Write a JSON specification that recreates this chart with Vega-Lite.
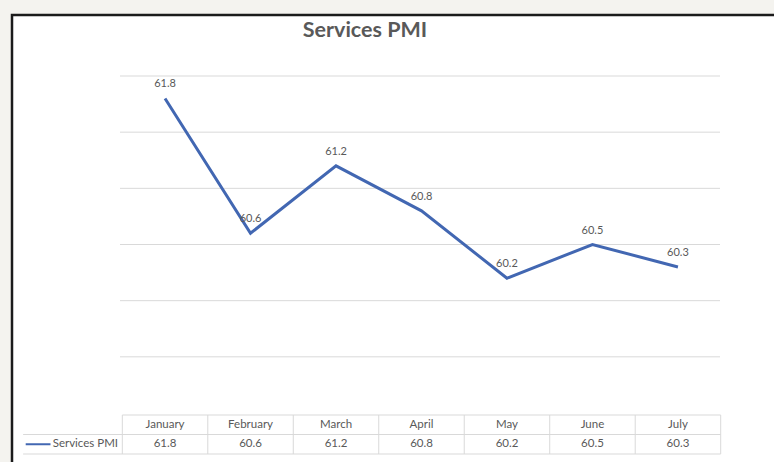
{
  "$schema": "https://vega.github.io/schema/vega-lite/v6.json",
  "width": 770,
  "height": 460,
  "autosize": {"type": "none"},
  "padding": {"left": 12, "top": 15, "right": 0, "bottom": 0},
  "background": "#f4f3ef",
  "config": {
    "view": {"fill": "white", "stroke": "#1b1b1b", "strokeWidth": 2.5},
    "font": "Lato",
    "text": {"font": "Lato", "fontSize": 11.5, "color": "#595959"}
  },
  "title": {
    "text": "Services PMI",
    "font": "Lato",
    "fontSize": 21.5,
    "fontWeight": "bold",
    "color": "#595959",
    "anchor": "middle",
    "baseline": "middle",
    "offset": -37,
    "dx": -32
  },
  "datasets": {
    "pmi": [
      {"month": "January", "value": 61.8},
      {"month": "February", "value": 60.6},
      {"month": "March", "value": 61.2},
      {"month": "April", "value": 60.8},
      {"month": "May", "value": 60.2},
      {"month": "June", "value": 60.5},
      {"month": "July", "value": 60.3}
    ],
    "grid": [
      {"level": 59.5},
      {"level": 60},
      {"level": 60.5},
      {"level": 61},
      {"level": 61.5},
      {"level": 62}
    ],
    "one": [{"series": "Services PMI"}]
  },
  "layer": [
    {
      "data": {"name": "grid"},
      "mark": {"type": "rule", "color": "#d9d9d9", "strokeWidth": 1},
      "encoding": {
        "y": {"field": "level", "type": "quantitative", "axis": null,
              "scale": {"domain": [59, 62], "range": [398, 61], "nice": false, "zero": false}},
        "x": {"datum": 0, "type": "quantitative", "axis": null,
              "scale": {"domain": [0, 1], "range": [108, 708], "nice": false, "zero": false}},
        "x2": {"datum": 1}
      }
    },
    {
      "data": {"name": "one"},
      "mark": {"type": "rule", "color": "#d9d9d9", "strokeWidth": 1},
      "encoding": {
        "x": {"datum": 0, "type": "quantitative", "axis": null,
              "scale": {"domain": [0, 7], "range": [110.3, 708.7], "nice": false, "zero": false}},
        "x2": {"datum": 7},
        "y": {"datum": 0, "type": "quantitative", "axis": null,
              "scale": {"domain": [0, 2], "range": [400, 439], "nice": false, "zero": false}}
      }
    },
    {
      "data": {"name": "one"},
      "mark": {"type": "rule", "color": "#d9d9d9", "strokeWidth": 1},
      "encoding": {
        "x": {"datum": -1.16, "type": "quantitative", "axis": null,
              "scale": {"domain": [0, 7], "range": [110.3, 708.7], "nice": false, "zero": false}},
        "x2": {"datum": 7},
        "y": {"datum": 1, "type": "quantitative", "axis": null,
              "scale": {"domain": [0, 2], "range": [400, 439], "nice": false, "zero": false}}
      }
    },
    {
      "data": {"name": "one"},
      "mark": {"type": "rule", "color": "#d9d9d9", "strokeWidth": 1},
      "encoding": {
        "x": {"datum": -1.16, "type": "quantitative", "axis": null,
              "scale": {"domain": [0, 7], "range": [110.3, 708.7], "nice": false, "zero": false}},
        "x2": {"datum": 7},
        "y": {"datum": 2, "type": "quantitative", "axis": null,
              "scale": {"domain": [0, 2], "range": [400, 439], "nice": false, "zero": false}}
      }
    },
    {
      "data": {"name": "pmi"},
      "mark": {"type": "rule", "color": "#d9d9d9", "strokeWidth": 1},
      "encoding": {
        "x": {"field": "month", "type": "nominal", "axis": null, "bandPosition": 0, "sort": null,
              "scale": {"type": "band", "domain": ["January", "February", "March", "April", "May", "June", "July"], "range": [110.3, 708.7], "paddingInner": 0, "paddingOuter": 0}},
        "y": {"datum": 0, "type": "quantitative", "axis": null,
              "scale": {"domain": [0, 2], "range": [400, 439], "nice": false, "zero": false}},
        "y2": {"datum": 2}
      }
    },
    {
      "data": {"name": "one"},
      "mark": {"type": "rule", "color": "#d9d9d9", "strokeWidth": 1},
      "encoding": {
        "x": {"datum": 7, "type": "quantitative", "axis": null,
              "scale": {"domain": [0, 7], "range": [110.3, 708.7], "nice": false, "zero": false}},
        "y": {"datum": 0, "type": "quantitative", "axis": null,
              "scale": {"domain": [0, 2], "range": [400, 439], "nice": false, "zero": false}},
        "y2": {"datum": 2}
      }
    },
    {
      "data": {"name": "pmi"},
      "mark": {"type": "text", "baseline": "middle", "align": "center"},
      "encoding": {
        "text": {"field": "month"},
        "x": {"field": "month", "type": "nominal", "axis": null, "sort": null,
              "scale": {"type": "band", "domain": ["January", "February", "March", "April", "May", "June", "July"], "range": [110.3, 708.7], "paddingInner": 0, "paddingOuter": 0}},
        "y": {"datum": 0.5, "type": "quantitative", "axis": null,
              "scale": {"domain": [0, 2], "range": [400, 439], "nice": false, "zero": false}}
      }
    },
    {
      "data": {"name": "pmi"},
      "mark": {"type": "text", "baseline": "middle", "align": "center"},
      "encoding": {
        "text": {"field": "value", "format": ".1f"},
        "x": {"field": "month", "type": "nominal", "axis": null, "sort": null,
              "scale": {"type": "band", "domain": ["January", "February", "March", "April", "May", "June", "July"], "range": [110.3, 708.7], "paddingInner": 0, "paddingOuter": 0}},
        "y": {"datum": 1.5, "type": "quantitative", "axis": null,
              "scale": {"domain": [0, 2], "range": [400, 439], "nice": false, "zero": false}}
      }
    },
    {
      "data": {"name": "one"},
      "mark": {"type": "text", "baseline": "middle", "align": "right"},
      "encoding": {
        "text": {"field": "series"},
        "x": {"datum": -0.05, "type": "quantitative", "axis": null,
              "scale": {"domain": [0, 7], "range": [110.3, 708.7], "nice": false, "zero": false}},
        "y": {"datum": 1.5, "type": "quantitative", "axis": null,
              "scale": {"domain": [0, 2], "range": [400, 439], "nice": false, "zero": false}}
      }
    },
    {
      "data": {"name": "one"},
      "mark": {"type": "rule", "color": "#4267b2", "strokeWidth": 2},
      "encoding": {
        "x": {"datum": -1.13, "type": "quantitative", "axis": null,
              "scale": {"domain": [0, 7], "range": [110.3, 708.7], "nice": false, "zero": false}},
        "x2": {"datum": -0.84},
        "y": {"datum": 1.5, "type": "quantitative", "axis": null,
              "scale": {"domain": [0, 2], "range": [400, 439], "nice": false, "zero": false}}
      }
    },
    {
      "data": {"name": "pmi"},
      "mark": {"type": "line", "color": "#4267b2", "strokeWidth": 3, "strokeJoin": "miter"},
      "encoding": {
        "x": {"field": "month", "type": "nominal", "axis": null, "sort": null,
              "scale": {"type": "band", "domain": ["January", "February", "March", "April", "May", "June", "July"], "range": [110.3, 708.7], "paddingInner": 0, "paddingOuter": 0}},
        "y": {"field": "value", "type": "quantitative", "axis": null,
              "scale": {"domain": [59, 62], "range": [398, 61], "nice": false, "zero": false}}
      }
    },
    {
      "data": {"name": "pmi"},
      "mark": {"type": "text", "baseline": "middle", "align": "center", "dy": -14, "fontSize": 11},
      "encoding": {
        "text": {"field": "value", "format": ".1f"},
        "x": {"field": "month", "type": "nominal", "axis": null, "sort": null,
              "scale": {"type": "band", "domain": ["January", "February", "March", "April", "May", "June", "July"], "range": [110.3, 708.7], "paddingInner": 0, "paddingOuter": 0}},
        "y": {"field": "value", "type": "quantitative", "axis": null,
              "scale": {"domain": [59, 62], "range": [398, 61], "nice": false, "zero": false}}
      }
    }
  ],
  "resolve": {"scale": {"x": "independent", "y": "independent"}}
}
